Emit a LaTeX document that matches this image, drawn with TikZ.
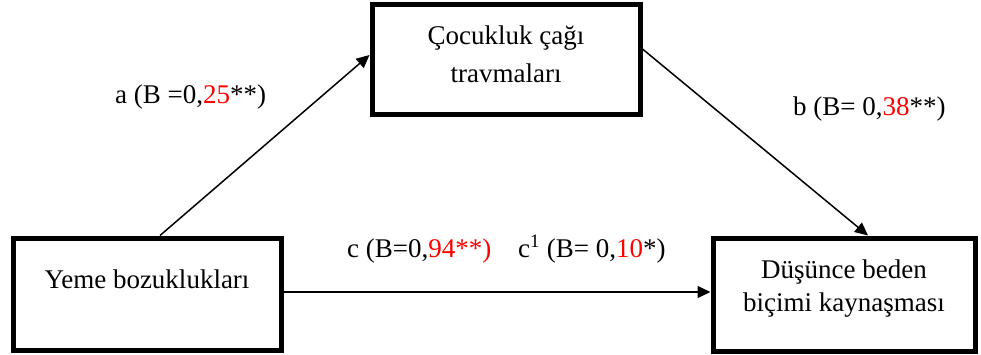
\documentclass[tikz,border=0pt]{standalone}
\usepackage{fontspec}
\setmainfont{Liberation Serif}
\usepackage{tikz}
\usetikzlibrary{arrows.meta,positioning,calc}
\usepackage{xcolor}

\begin{document}
\begin{tikzpicture}[x=1pt, y=-1pt, font=\fontsize{27}{33}\selectfont,
  box/.style={draw, line width=5pt, align=center, inner sep=0pt},
  lbl/.style={anchor=base west, inner sep=0pt},
  arr/.style={-{Triangle[length=13pt, width=12pt]}, line width=1.5pt}]
\useasboundingbox (0,0) rectangle (981,354);
\node[box, minimum width=268pt, minimum height=110pt, text depth=10pt,
  font=\fontsize{27}{38}\selectfont] (trauma) at (506,59) {Çocukluk çağı\\travmaları};
\node[box, minimum width=268pt, minimum height=112pt, text depth=30pt] (yeme) at (147,294) {Yeme bozuklukları};
\node[box, minimum width=262pt, minimum height=113pt, text depth=18pt] (dusunce) at (844,294.5) {Düşünce beden\\biçimi kaynaşması};
\draw[arr] ([xshift=13pt]yeme.north) -- ([yshift=4pt]trauma.west);
\draw[arr] ([yshift=10pt]trauma.east) -- ([xshift=24pt]dusunce.north);
\draw[arr] ([yshift=2pt]yeme.east) -- ([yshift=2pt]yeme.east -| dusunce.west);
\node[lbl] (apath) at (115,103) {a (B =0,\textcolor{red}{25}**)};
\node[lbl] (bpath) at (793,115) {b (B= 0,\textcolor{red}{38}**)};
\node[lbl] (cpath) at (347,257) {c (B=0,\textcolor{red}{94**)}};
\node[lbl] (cprime) at (518,257) {c\textsuperscript{1} (B= 0,\textcolor{red}{10}*)};
\end{tikzpicture}
\end{document}
